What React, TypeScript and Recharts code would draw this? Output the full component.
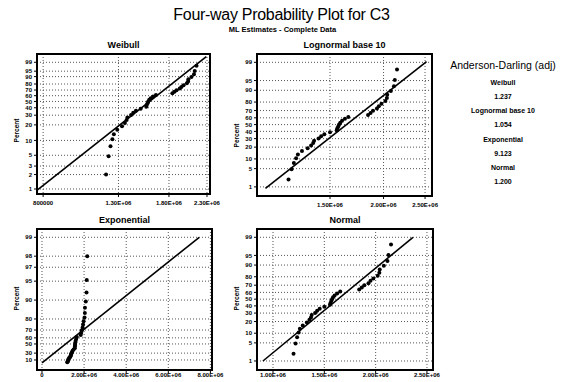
import React from 'react';
import { ScatterChart, Scatter, XAxis, YAxis, CartesianGrid } from 'recharts';

// C3 sample (sorted), and their plotted percents
const sampleValues = [
  1200000, 1220000, 1235000, 1250000, 1262000, 1290000, 1330000, 1355000, 1370000, 1377000,
  1410000, 1430000, 1455000, 1500000, 1555000, 1560000, 1568000, 1575000, 1585000, 1600000,
  1625000, 1655000, 1840000, 1865000, 1890000, 1930000, 1950000, 1978000, 2020000, 2036000,
  2040000, 2080000, 2115000, 2125000, 2150000,
];
const plotPercents = [
  2.0, 4.8, 7.6, 10.5, 13.3, 16.1, 18.9, 21.8, 24.6, 27.4,
  30.2, 33.1, 35.9, 38.7, 41.5, 44.4, 47.2, 50.0, 52.8, 55.6,
  58.5, 61.3, 64.1, 66.9, 69.8, 72.6, 75.4, 78.2, 81.1, 83.9,
  86.7, 89.5, 92.4, 95.2, 98.0,
];

// fitted lines, ends
const weibullFit = [{ value: 770000, pct: 0.95 }, { value: 2290000, pct: 99.77 }];
const lognormalFit = [{ value: 1060000, pct: 0.85 }, { value: 2520000, pct: 99.06 }];
const exponentialFit = [{ value: 0, pct: 0 }, { value: 7470000, pct: 99 }];
const normalFit = [{ value: 902000, pct: 1 }, { value: 2364000, pct: 99 }];

const weibullPctTicks = [1, 2, 3, 5, 10, 20, 30, 40, 50, 60, 70, 80, 90, 95, 99];
const normalPctTicks = [1, 5, 10, 20, 30, 40, 50, 60, 70, 80, 90, 95, 99];
const exponentialPctTicks = [10, 30, 50, 60, 70, 80, 90, 95, 97, 98, 99];

const weibullValueTicks = [800000, 1300000, 1800000, 2300000];
const lognormalValueTicks = [1500000, 2000000, 2500000];
const exponentialValueTicks = [0, 2000000, 4000000, 6000000, 8000000];
const normalValueTicks = [1000000, 1500000, 2000000, 2500000];

const adNames = ['Weibull', 'Lognormal base 10', 'Exponential', 'Normal'];
const adValues = ['1.237', '1.054', '9.123', '1.200'];

function probit(p: number) {
  const a = [-39.69683028665376, 220.9460984245205, -275.9285104469687, 138.357751867269, -30.66479806614716, 2.506628277459239];
  const b = [-54.47609879822406, 161.5858368580409, -155.6989798598866, 66.80131188771972, -13.28068155288572];
  const c = [-0.007784894002430293, -0.3223964580411365, -2.400758277161838, -2.549671010115069, 4.374664141464968, 2.938163982698783];
  const d = [0.007784695709041462, 0.3224671290700398, 2.445134137142996, 3.754408361280313];
  const lo = 0.02425;
  if (p < lo || p > 1 - lo) {
    const q = Math.sqrt(-2 * Math.log(p < lo ? p : 1 - p));
    const v = (((((c[0] * q + c[1]) * q + c[2]) * q + c[3]) * q + c[4]) * q + c[5]) /
      ((((d[0] * q + d[1]) * q + d[2]) * q + d[3]) * q + 1);
    return p < lo ? v : -v;
  }
  const q = p - 0.5;
  const r = q * q;
  return (((((a[0] * r + a[1]) * r + a[2]) * r + a[3]) * r + a[4]) * r + a[5]) * q /
    (((((b[0] * r + b[1]) * r + b[2]) * r + b[3]) * r + b[4]) * r + 1);
}

const weibullY = (pct: number) => Math.log(-Math.log(1 - pct / 100));
const normalY = (pct: number) => probit(pct / 100);
const exponentialY = (pct: number) => -Math.log(1 - pct / 100);

const fmtValue = (v: number) => {
  if (v === 0) return '0';
  if (v < 1000000) return String(v);
  return v.toExponential(2).toUpperCase().replace(/E\+(\d)$/, 'E+0$1');
};

const FONT = '"Liberation Sans", Arial, sans-serif';

interface Box { x0: number; y0: number; x1: number; y1: number }

interface PanelProps {
  title: string;
  box: Box;
  xScale: 'log' | 'linear';
  xDomain: [number, number];
  xTicks: number[];
  yDomain: [number, number];
  pctTicks: number[];
  toY: (pct: number) => number;
  fit: { value: number; pct: number }[];
  labelDy?: number;
  xTickMargin?: number;
}

const Dot = (props: any) => <circle cx={props.cx} cy={props.cy} r={2} fill="#000" />;
const NoShape = () => <g />;

function ProbPanel({ title, box, xScale, xDomain, xTicks, yDomain, pctTicks, toY, fit, labelDy = 0, xTickMargin = 4 }: PanelProps) {
  const W = box.x1 - box.x0;
  const H = box.y1 - box.y0;
  const L = 34, T = 4, R = 16, B = 22;
  const points = sampleValues.map((v, i) => ({ x: v, y: toY(plotPercents[i]) }));
  const line = fit.map((f) => ({ x: f.value, y: toY(f.pct) }));
  const yTicks = pctTicks.map(toY);
  const yLabel = (v: number) => {
    const i = yTicks.findIndex((t) => Math.abs(t - v) < 1e-6);
    return i >= 0 ? String(pctTicks[i]) : '';
  };
  const tick = { fontSize: 6, fill: '#000', fontWeight: 700 };

  return (
    <>
      <div style={{ position: 'absolute', left: box.x0, width: W, top: box.y0 - 14, textAlign: 'center', fontSize: 9, fontWeight: 700 }}>
        {title}
      </div>
      <div style={{ position: 'absolute', left: box.x0 - 30, top: (box.y0 + box.y1) / 2 + labelDy, width: 30, height: 0 }}>
        <div style={{ position: 'absolute', left: -21.5, top: -5, width: 60, textAlign: 'center', fontSize: 6.5, fontWeight: 700, transform: 'rotate(-90deg)' }}>
          Percent
        </div>
      </div>
      <div style={{ position: 'absolute', left: box.x0 - L, top: box.y0 - T }}>
        <ScatterChart width={W + L + R} height={H + T + B} margin={{ top: T, right: R, left: 0, bottom: 0 }}>
          <CartesianGrid stroke="#555" strokeDasharray="1 2" />
          <XAxis
            type="number"
            dataKey="x"
            scale={xScale}
            domain={xDomain}
            ticks={xTicks}
            interval={0}
            allowDataOverflow
            height={B}
            axisLine={false}
            tickLine={{ stroke: '#000' }}
            tickSize={3}
            tickMargin={xTickMargin}
            tick={tick}
            tickFormatter={fmtValue}
          />
          <YAxis
            type="number"
            dataKey="y"
            domain={yDomain}
            ticks={yTicks}
            interval={0}
            allowDataOverflow
            width={L}
            axisLine={false}
            tickLine={{ stroke: '#000' }}
            tickSize={3}
            tickMargin={2}
            tick={tick}
            tickFormatter={yLabel}
          />
          <Scatter data={line} line={{ stroke: '#000', strokeWidth: 1.6 }} shape={NoShape} isAnimationActive={false} />
          <Scatter data={points} shape={Dot} isAnimationActive={false} />
        </ScatterChart>
      </div>
      <div style={{ position: 'absolute', left: box.x0 - 1, top: box.y0 - 1, width: W + 2, height: H + 2, border: '2px solid #000', boxSizing: 'border-box', pointerEvents: 'none' }} />
    </>
  );
}

export default function App() {
  return (
    <div style={{ position: 'absolute', left: 0, top: 0, width: 561, height: 382, background: '#fff', fontFamily: FONT, color: '#000', overflow: 'hidden' }}>
      <div style={{ position: 'absolute', left: 0, width: 563, top: 6, textAlign: 'center', fontSize: 16, letterSpacing: -0.3 }}>
        Four-way Probability Plot for C3
      </div>
      <div style={{ position: 'absolute', left: 0, width: 565, top: 25, textAlign: 'center', fontSize: 7.5, fontWeight: 700 }}>
        ML Estimates - Complete Data
      </div>

      <ProbPanel
        title="Weibull"
        box={{ x0: 37, y0: 54, x1: 210, y1: 194 }}
        xScale="log"
        xDomain={[769000, 2345000]}
        xTicks={weibullValueTicks}
        yDomain={[-4.842, 1.928]}
        pctTicks={weibullPctTicks}
        toY={weibullY}
        fit={weibullFit}
        labelDy={8}
      />
      <ProbPanel
        title="Lognormal base 10"
        box={{ x0: 257, y0: 54, x1: 432, y1: 196 }}
        xScale="log"
        xDomain={[1013000, 2595000]}
        xTicks={lognormalValueTicks}
        yDomain={[-2.667, 2.637]}
        pctTicks={normalPctTicks}
        toY={normalY}
        fit={lognormalFit}
        labelDy={12}
      />
      <ProbPanel
        title="Exponential"
        box={{ x0: 37, y0: 229, x1: 212, y1: 370 }}
        xScale="linear"
        xDomain={[-237500, 8076000]}
        xTicks={exponentialValueTicks}
        yDomain={[-0.262, 4.909]}
        pctTicks={exponentialPctTicks}
        toY={exponentialY}
        fit={exponentialFit}
        xTickMargin={0}
      />
      <ProbPanel
        title="Normal"
        box={{ x0: 257, y0: 229, x1: 433, y1: 370 }}
        xScale="linear"
        xDomain={[844000, 2559000]}
        xTicks={normalValueTicks}
        yDomain={[-2.665, 2.638]}
        pctTicks={normalPctTicks}
        toY={normalY}
        fit={normalFit}
        xTickMargin={0}
      />

      <div style={{ position: 'absolute', left: 448, width: 110, top: 59, textAlign: 'center', fontSize: 10.5 }}>
        Anderson-Darling (adj)
      </div>
      {adNames.map((name, i) => (
        <React.Fragment key={name}>
          <div style={{ position: 'absolute', left: 448, width: 110, top: 79 + i * 28.3, textAlign: 'center', fontSize: 7, fontWeight: 700 }}>
            {name}
          </div>
          <div style={{ position: 'absolute', left: 448, width: 110, top: 93 + i * 28.3, textAlign: 'center', fontSize: 7, fontWeight: 700 }}>
            {adValues[i]}
          </div>
        </React.Fragment>
      ))}
    </div>
  );
}
